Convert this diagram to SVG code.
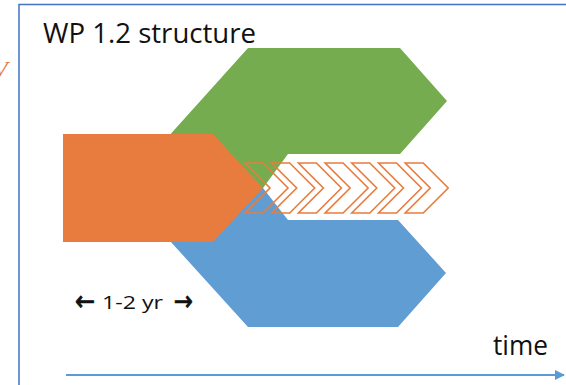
<svg xmlns="http://www.w3.org/2000/svg" width="566" height="385" viewBox="0 0 566 385">
<defs>
<style>
.txt{font-family:"Open Sans","Liberation Sans",Arial,sans-serif;fill:#111}
.arr{font-family:"DejaVu Sans","Liberation Sans",sans-serif;fill:#111;stroke:#111;stroke-width:0.9}
.chev{fill:none;stroke:#E87C3E;stroke-width:1.6;stroke-linejoin:miter}
</style>
<marker id="ah" markerWidth="10" markerHeight="10" refX="9" refY="5" orient="auto" markerUnits="userSpaceOnUse">
<path d="M0,0 L10,5 L0,10 Z" fill="#5B9BD5"/>
</marker>
</defs>
<rect width="566" height="385" fill="#ffffff"/>
<text x="-7" y="77" font-family="Liberation Serif,serif" font-style="italic" font-size="24" fill="#E87C3E">V</text>
<rect id="frame" x="19" y="4.5" width="600" height="420" fill="none" stroke="#4472C4" stroke-width="1.5"/>
<g id="title"><text class="txt" x="43" y="43" font-size="28" textLength="213" lengthAdjust="spacingAndGlyphs">WP 1.2 structure</text></g>
<g id="green"><polygon points="248,48 400,48 447,101 400,154 288,154 263,188 122,188" fill="#74AC4F"/></g>
<g id="blue"><polygon points="122,188 263,188 288,220 398,220 446,273 398,327 248,327" fill="#609DD3"/></g>
<g id="orange"><polygon points="63,134 213,134 263,188 213,242 63,242" fill="#E87C3E"/></g>
<g id="chevrons">
<polygon class="chev" points="245,163 263,163 288,188 263,213 245,213 270,188"/>
<polygon class="chev" points="271.7,163 289.7,163 314.7,188 289.7,213 271.7,213 296.7,188"/>
<polygon class="chev" points="298.4,163 316.4,163 341.4,188 316.4,213 298.4,213 323.4,188"/>
<polygon class="chev" points="325.1,163 343.1,163 368.1,188 343.1,213 325.1,213 350.1,188"/>
<polygon class="chev" points="351.8,163 369.8,163 394.8,188 369.8,213 351.8,213 376.8,188"/>
<polygon class="chev" points="378.5,163 396.5,163 421.5,188 396.5,213 378.5,213 403.5,188"/>
<polygon class="chev" points="405.2,163 423.2,163 448.2,188 423.2,213 405.2,213 430.2,188"/>
</g>
<g id="duration"><text y="309"><tspan class="arr" x="75" y="310" font-size="27" textLength="20" lengthAdjust="spacingAndGlyphs">←</tspan><tspan class="txt" x="102" y="309" font-size="19" textLength="61" lengthAdjust="spacingAndGlyphs">1-2 yr</tspan><tspan class="arr" x="174" y="310" font-size="27" textLength="19" lengthAdjust="spacingAndGlyphs">→</tspan></text></g>
<g id="connectors"><line x1="66" y1="375" x2="564" y2="375" stroke="#5B9BD5" stroke-width="2" marker-end="url(#ah)"/></g>
<g id="timelabel"><text class="txt" x="493" y="355" font-size="27" textLength="55" lengthAdjust="spacingAndGlyphs">time</text></g>
</svg>
